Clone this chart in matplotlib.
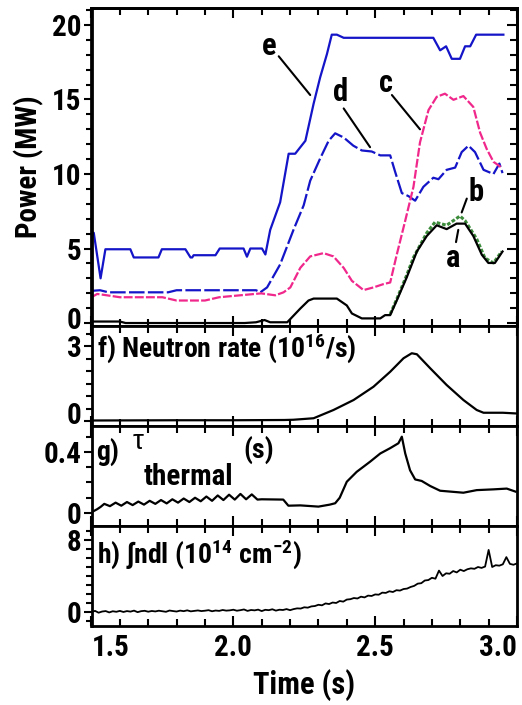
import matplotlib
matplotlib.use('Agg')
import matplotlib.pyplot as plt
from matplotlib import font_manager as fm
from matplotlib.ticker import MultipleLocator, FixedLocator, FixedFormatter
from matplotlib.transforms import ScaledTranslation
import numpy as np

# ---------------- data ----------------
# Power panel (MW)
e_t = [1.500,1.508,1.532,1.549,1.637,1.649,1.736,1.748,1.831,1.849,1.855,1.860,1.937,1.952,2.036,2.048,2.060,2.101,2.113,2.130,
       2.165,2.195,2.218,2.254,2.283,2.306,2.330,2.347,2.365,2.389,2.705,2.729,2.750,2.770,2.799,2.817,2.835,2.856,2.952]
e_v = [6.1,6.05,3.0,4.95,4.95,4.4,4.4,4.95,4.95,4.4,4.4,4.55,4.55,5.0,5.0,4.45,5.0,5.0,4.6,6.25,
       8.1,11.36,11.36,12.23,14.72,16.48,18.05,19.35,19.35,19.14,19.14,18.3,18.57,17.73,17.73,18.57,18.57,19.35,19.35]

d_t = [1.500,1.508,1.53,1.56,1.70,1.77,1.80,2.05,2.08,2.095,2.119,2.165,2.212,2.248,2.271,2.306,2.336,2.359,2.389,2.423,
       2.453,2.488,2.518,2.553,2.570,2.594,2.617,2.641,2.670,2.705,2.723,2.752,2.782,2.805,2.829,2.852,2.882,2.917,2.938,2.949]
d_v = [2.15,2.17,2.2,2.06,2.06,2.06,2.2,2.2,2.2,2.06,2.39,3.93,6.25,7.9,9.55,11.04,12.23,12.73,12.45,11.9,
       11.58,11.51,11.25,11.25,10.17,8.72,8.52,8.21,9.14,9.75,9.65,10.28,10.43,11.47,11.9,11.47,10.28,10.0,10.7,10.06]

c_t = [1.500,1.520,1.54,1.60,1.75,1.80,1.90,1.95,2.098,2.148,2.177,2.201,2.236,2.271,2.318,2.353,2.389,2.418,2.459,2.494,
       2.529,2.553,2.576,2.606,2.635,2.658,2.688,2.717,2.746,2.776,2.811,2.846,2.870,2.893,2.917,2.946]
c_v = [1.73,1.95,1.9,1.73,1.73,1.51,1.51,1.73,1.99,1.86,2.06,2.39,3.7,4.47,4.69,4.47,3.7,2.83,2.21,2.39,
       2.61,2.72,4.58,6.87,9.14,12.12,14.29,15.18,15.39,14.98,15.23,14.5,12.77,11.69,10.82,10.43]

b_t = [2.553,2.576,2.611,2.635,2.682,2.711,2.752,2.799,2.817,2.858,2.887,2.917,2.946]
b_v = [0.6,1.6,3.2,4.4,6.05,6.77,6.56,7.18,6.87,5.64,4.36,4.03,4.8]

a_t = [1.500,1.600,1.620,2.040,2.080,2.110,2.130,2.190,2.236,2.265,2.283,2.365,2.400,2.418,2.453,2.518,2.535,2.553,2.576,2.611,
       2.647,2.682,2.717,2.752,2.787,2.817,2.846,2.876,2.899,2.922,2.949]
a_v = [0.1,0.1,0.0,0.0,0.05,0.2,0.05,0.05,0.97,1.51,1.64,1.64,1.18,0.64,0.31,0.31,0.53,0.53,1.51,3.05,
       4.8,5.84,6.56,6.3,6.67,6.67,5.84,4.58,4.03,4.03,4.8]

# curve labels: (name, text x, text y, line start x, y, line end x, y)
curve_labels = [
    ('e', 2.127, 18.6, 2.160, 17.9, 2.271, 15.3),
    ('d', 2.378, 15.5, 2.389, 14.4, 2.482, 11.8),
    ('c', 2.538, 16.1, 2.559, 15.3, 2.658, 13.0),
    ('b', 2.856, 8.8, 2.823, 8.35, 2.805, 7.42),
    ('a', 2.775, 4.36, 2.785, 5.43, 2.793, 6.25),
]

# f) neutron rate (1e16 /s)
n_t = [1.50,1.80,2.00,2.18,2.212,2.283,2.353,2.424,2.494,2.553,2.600,2.629,2.647,2.694,2.752,2.811,2.858,2.882,2.95,3.00]
n_v = [0.02,0.03,0.03,0.04,0.05,0.11,0.44,0.84,1.37,1.97,2.51,2.71,2.67,2.11,1.44,0.84,0.44,0.33,0.33,0.30]

# g) tau thermal (s)
tau_t = [1.500,1.520,1.532,1.545,1.565,1.585,1.605,1.625,1.645,1.665,1.685,1.705,1.725,1.745,1.765,1.785,1.805,1.825,1.845,1.865,
         1.885,1.905,1.925,1.945,1.965,1.985,2.005,2.025,2.045,2.065,2.085,2.100,2.176,2.194,2.236,2.300,2.340,2.359,2.375,2.400,
         2.435,2.482,2.518,2.553,2.582,2.594,2.606,2.623,2.641,2.664,2.694,2.729,2.811,2.858,2.917,2.964,2.995]
tau_v = [0.005,0.025,0.040,0.060,0.045,0.068,0.048,0.072,0.052,0.075,0.055,0.080,0.060,0.085,0.063,0.090,0.068,0.095,0.072,0.100,
         0.077,0.108,0.080,0.115,0.085,0.120,0.088,0.125,0.090,0.122,0.088,0.090,0.088,0.048,0.050,0.042,0.055,0.064,0.100,0.205,
         0.270,0.336,0.390,0.425,0.457,0.500,0.390,0.280,0.220,0.210,0.177,0.146,0.133,0.150,0.155,0.160,0.140]

# h) line-integrated density (1e14 cm^-2), sampled every 12.5 ms from 1.5 s to 3.0 s
ndl = [0.00,0.12,-0.08,0.05,0.10,-0.05,0.08,0.02,0.12,0.00,
       0.10,0.04,0.15,-0.02,0.09,0.13,0.03,0.11,0.06,0.14,
       0.08,0.02,0.16,0.10,0.05,0.15,0.09,0.18,0.07,0.12,
       0.17,0.10,0.14,0.20,0.08,0.16,0.12,0.22,0.15,0.18,
       0.25,0.14,0.20,0.28,0.12,0.22,0.18,0.26,0.10,0.24,
       0.20,0.30,0.15,0.25,0.22,0.32,0.20,
       0.32,0.40,0.38,0.52,0.48,0.62,
       0.66,0.80,0.74,0.95,0.88,1.05,1.00,1.22,1.15,1.38,
       1.42,1.55,1.50,1.70,1.62,1.82,1.78,1.95,1.92,2.15,
       2.12,2.30,2.22,2.42,2.38,2.55,2.60,
       2.78,2.90,3.15,3.20,3.50,
       3.55,3.80,3.70,4.60,4.00,4.30,
       4.25,4.55,4.40,4.70,4.55,4.75,
       4.85,4.80,5.00,4.90,5.05,
       6.90,5.00,5.20,5.15,5.30,6.10,5.35,5.25,5.40]
ndl_t = np.linspace(1.5, 3.0, len(ndl))

x_ticks = [1.5, 2.0, 2.5, 3.0]
x_ticklabels = ['1.5', '2.0', '2.5', '3.0']

# ---------------- style ----------------
names = {f.name for f in fm.fontManager.ttflist}
FONT = 'Liberation Sans'
NARROW = False
for cand in ['Liberation Sans Narrow', 'Arial Narrow', 'Nimbus Sans Narrow', 'Roboto Condensed',
             'Open Sans Condensed', 'DejaVu Sans Condensed']:
    if cand in names:
        FONT = cand
        NARROW = True
        break
FS = 21 if NARROW else 18      # tick labels
TS = 20 if NARROW else 17      # panel texts
plt.rcParams['font.family'] = [FONT, 'DejaVu Sans']
plt.rcParams['font.weight'] = 'bold'
plt.rcParams['axes.labelweight'] = 'bold'
plt.rcParams['mathtext.fontset'] = 'custom'
plt.rcParams['mathtext.rm'] = FONT + ':bold'
plt.rcParams['mathtext.it'] = FONT + ':bold'
plt.rcParams['mathtext.bf'] = FONT + ':bold'
plt.rcParams['mathtext.default'] = 'rm'

BLUE = '#1414c8'
PINK = '#f0288c'
GREEN = '#3c8c3c'

fig = plt.figure(figsize=(5.22, 7.05), dpi=100)
L = 91.5 / 522
W = 425.5 / 522


def box(top, bottom):
    return [L, (705 - bottom) / 705, W, (bottom - top) / 705]


def style(ax, yticks, ylabels, yminor, labels_bottom=False):
    ax.set_xlim(1.5, 3.0)
    for s in ax.spines.values():
        s.set_linewidth(2.0)
    ax.xaxis.set_major_locator(FixedLocator(x_ticks))
    ax.xaxis.set_minor_locator(MultipleLocator(0.1))
    ax.yaxis.set_major_locator(FixedLocator(yticks))
    ax.yaxis.set_major_formatter(FixedFormatter(ylabels))
    ax.yaxis.set_minor_locator(MultipleLocator(yminor))
    ax.tick_params(axis='x', which='both', direction='in', top=True, bottom=True,
                   labelbottom=labels_bottom, width=1.5, labelsize=FS, pad=6)
    ax.tick_params(axis='x', which='major', length=7)
    ax.tick_params(axis='x', which='minor', length=5)
    ax.tick_params(axis='y', which='both', direction='out', left=True, right=False,
                   width=1.5, labelsize=FS, pad=1)
    ax.tick_params(axis='y', which='major', length=6)
    ax.tick_params(axis='y', which='minor', length=4)


def lift_label(ax, index, pixels):
    lab = ax.yaxis.get_major_ticks()[index].label1
    lab.set_transform(lab.get_transform() + ScaledTranslation(0, pixels / 100, fig.dpi_scale_trans))


# ---- power panel ----
ax1 = fig.add_axes(box(8, 326))
ax1.plot(e_t, e_v, color=BLUE, lw=1.6)
ax1.plot(d_t, d_v, color=BLUE, lw=1.6, dashes=(7, 1.5))
ax1.plot(c_t, c_v, color=PINK, lw=1.6, dashes=(4, 1))
ax1.plot(b_t, b_v, color=GREEN, lw=2.2, dashes=(1.2, 0.6))
ax1.plot(a_t, a_v, color='black', lw=1.6)
ax1.set_ylim(-0.2, 21.14)
style(ax1, [0, 5, 10, 15, 20], ['0', '5', '10', '15', '20'], 1)
ax1.set_ylabel('Power (MW)', fontsize=FS, labelpad=6)
ax1r = ax1.twinx()
ax1r.set_ylim(ax1.get_ylim())
ax1r.yaxis.set_major_locator(FixedLocator([0, 5, 10, 15, 20]))
ax1r.yaxis.set_minor_locator(MultipleLocator(1))
ax1r.tick_params(axis='y', which='both', direction='in', labelright=False, width=1.5)
ax1r.tick_params(axis='y', which='major', length=7)
ax1r.tick_params(axis='y', which='minor', length=5)
for s in ax1r.spines.values():
    s.set_linewidth(2.0)
for name, tx, ty, sx, sy, ex, ey in curve_labels:
    ax1.text(tx, ty, name, fontsize=FS + 1, ha='center', va='center')
    ax1.annotate('', xy=(ex, ey), xytext=(sx, sy),
                 arrowprops=dict(arrowstyle='-', lw=1.5, color='black', shrinkA=0, shrinkB=0))

# ---- f) neutron rate ----
axf = fig.add_axes(box(326, 426))
axf.plot(n_t, n_v, color='black', lw=1.6)
axf.set_ylim(-0.2, 3.8)
style(axf, [0, 3], ['0', '3'], 0.5)
axf.text(0.012, 0.78, r'f) Neutron rate (10$^{16}$/s)', transform=axf.transAxes,
         fontsize=TS, ha='left', va='center')

# ---- g) tau thermal ----
axg = fig.add_axes(box(426, 526))
axg.plot(tau_t, tau_v, color='black', lw=1.6)
axg.set_ylim(-0.085, 0.57)
style(axg, [0, 0.4], ['0', '0.4'], 0.1)
axg.text(0.012, 0.74, 'g)', transform=axg.transAxes, fontsize=TS, ha='left', va='center')
axg.text(0.096, 0.84, 'τ', transform=axg.transAxes, fontsize=TS, ha='left', va='center',
         family=['Liberation Sans', 'DejaVu Sans'], fontweight='normal')
axg.text(0.122, 0.49, 'thermal', transform=axg.transAxes, fontsize=TS + 1, ha='left', va='center')
axg.text(0.357, 0.76, '(s)', transform=axg.transAxes, fontsize=TS, ha='left', va='center')

# ---- h) integral n dl ----
axh = fig.add_axes(box(526, 626))
axh.plot(ndl_t, ndl, color='black', lw=1.3)
axh.set_ylim(-1.56, 9.56)
style(axh, [0, 8], ['0', '8'], 1, labels_bottom=True)
axh.xaxis.set_major_formatter(FixedFormatter(x_ticklabels))
axh.text(0.012, 0.72, 'h) ∫ndl (10$^{14}$ cm$^{-2}$)', transform=axh.transAxes,
         fontsize=TS, ha='left', va='center')
axh.set_xlabel('Time (s)', fontsize=FS + 1, labelpad=5)
fig.canvas.draw()
tl = axh.get_xticklabels()
tl[0].set_ha('left')
tl[-1].set_ha('right')
lift_label(ax1, 0, 5)
lift_label(axf, 0, 8)

fig.savefig('out.png', dpi=100)
